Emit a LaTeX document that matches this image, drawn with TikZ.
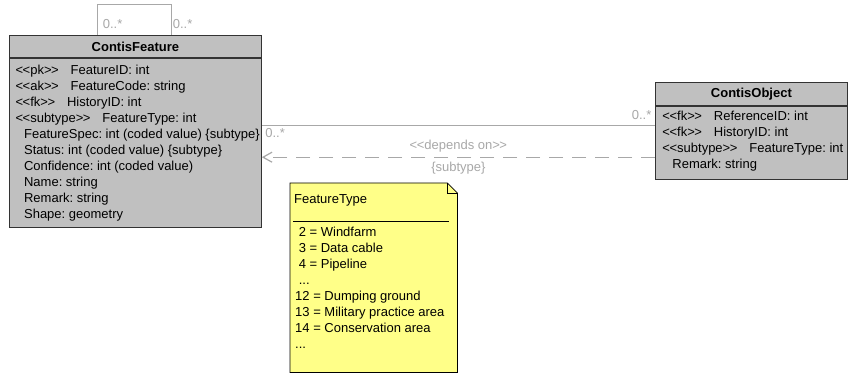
\documentclass[tikz,border=0pt]{standalone}
\usepackage{fontspec}
\setmainfont{Liberation Sans}
\usetikzlibrary{positioning,arrows.meta}

\definecolor{classgray}{HTML}{C0C0C0}
\definecolor{linkgray}{HTML}{A8A8A8}
\definecolor{noteyellow}{HTML}{FFFF88}

\tikzset{
  classhead/.style={draw=black!80, fill=classgray, line width=0.8pt,
    font=\fontsize{13}{16}\selectfont\bfseries, inner sep=0pt},
  classbody/.style={draw=black!80, fill=classgray, line width=0.8pt,
    align=left, inner sep=0pt},
  link/.style={draw=linkgray, line width=1.2pt},
  mult/.style={text=linkgray, inner sep=1pt},
}
% attribute lines of a class
\newcommand{\stereo}[2][6pt]{\hspace*{#1}<\kern-0.5pt<#2>\kern-0.5pt>\hspace{12pt}}
\newcommand{\plain}{\hspace*{13pt}}
\frenchspacing

\begin{document}
\begin{tikzpicture}[x=1pt,y=-1pt,font=\fontsize{13}{16}\selectfont]
\fill[white] (0,0) rectangle (848,374);

% ContisFeature class
\node[classhead, anchor=north west, minimum width=252, minimum height=22] (feathead) at (9,35) {ContisFeature};
\node[classbody, below=0pt of feathead, minimum width=252, minimum height=169] (featbody) {%
  \stereo[4.5pt]{pk}FeatureID: int\\
  \stereo[4.5pt]{ak}FeatureCode: string\\
  \stereo[4.5pt]{fk}HistoryID: int\\
  \stereo[4.5pt]{subtype}FeatureType: int\\
  \plain FeatureSpec: int (coded value) \{subtype\}\\
  \plain Status: int (coded value) \{subtype\}\\
  \plain Confidence: int (coded value)\\
  \plain Name: string\\
  \plain Remark: string\\
  \plain Shape: geometry};

% ContisObject class
\node[classhead, anchor=north west, minimum width=192, minimum height=23] (objhead) at (655,82) {ContisObject};
\node[classbody, below=0pt of objhead, minimum width=192, minimum height=73] (objbody) {%
  \stereo[3pt]{fk}ReferenceID: int\\
  \stereo[3pt]{fk}HistoryID: int\\
  \stereo[3pt]{subtype}FeatureType: int\\
  \plain Remark: string\rule[-6.7pt]{0pt}{0pt}};

% self association on top of ContisFeature
\draw[link, line width=1pt] ([xshift=-38pt]feathead.north) node[mult, above right=5pt and 4pt] {0..*}
  |- ([xshift=36pt,yshift=30pt]feathead.north)
  -- ([xshift=36pt]feathead.north) node[mult, above right=5pt and 0pt] {0..*};

% association between the two classes
\draw[link] ([yshift=17.5pt]featbody.east) node[mult, below right=2pt and 2pt] {0..*}
  -- ([yshift=17.5pt]objbody.west) node[mult, above left=4pt and 2pt] {0..*};

% dependency
\draw[link, dash pattern=on 14pt off 9pt, -{Straight Barb[length=9pt,width=10pt]}]
  ([yshift=-14.5pt]objbody.west) -- ([yshift=-14.5pt]featbody.east)
  node[mult, midway, above=3pt] {<\kern-0.5pt<depends on>\kern-0.5pt>}
  node[mult, midway, below=3pt] {\{subtype\}};

% note with the feature types
\node[anchor=north west, minimum width=167, minimum height=189, inner sep=0pt] (note) at (290,183) {};
\draw[fill=noteyellow, line width=0.8pt] (note.north west) -- ([xshift=-10pt]note.north east)
  -- ([yshift=-10pt]note.north east) -- (note.south east) -- (note.south west) -- cycle;
\draw[line width=0.8pt] ([xshift=-10pt]note.north east) |- ([yshift=-10pt]note.north east);
\node[anchor=base west, inner sep=1pt] (notetitle) at ([xshift=3pt,yshift=-20.6pt]note.north west) {FeatureType};
\draw[line width=0.8pt] ([xshift=3pt,yshift=-38pt]note.north west) -- ([xshift=-8pt,yshift=-38pt]note.north east);
\node[anchor=north west, align=left, inner sep=1pt] (notelist) at ([xshift=4pt,yshift=-43pt]note.north west) {%
  \ 2 = Windfarm\\
  \ 3 = Data cable\\
  \ 4 = Pipeline\\
  \ ...\\
  12 = Dumping ground\\
  13 = Military practice area\\
  14 = Conservation area\\
  ...};
\end{tikzpicture}
\end{document}
